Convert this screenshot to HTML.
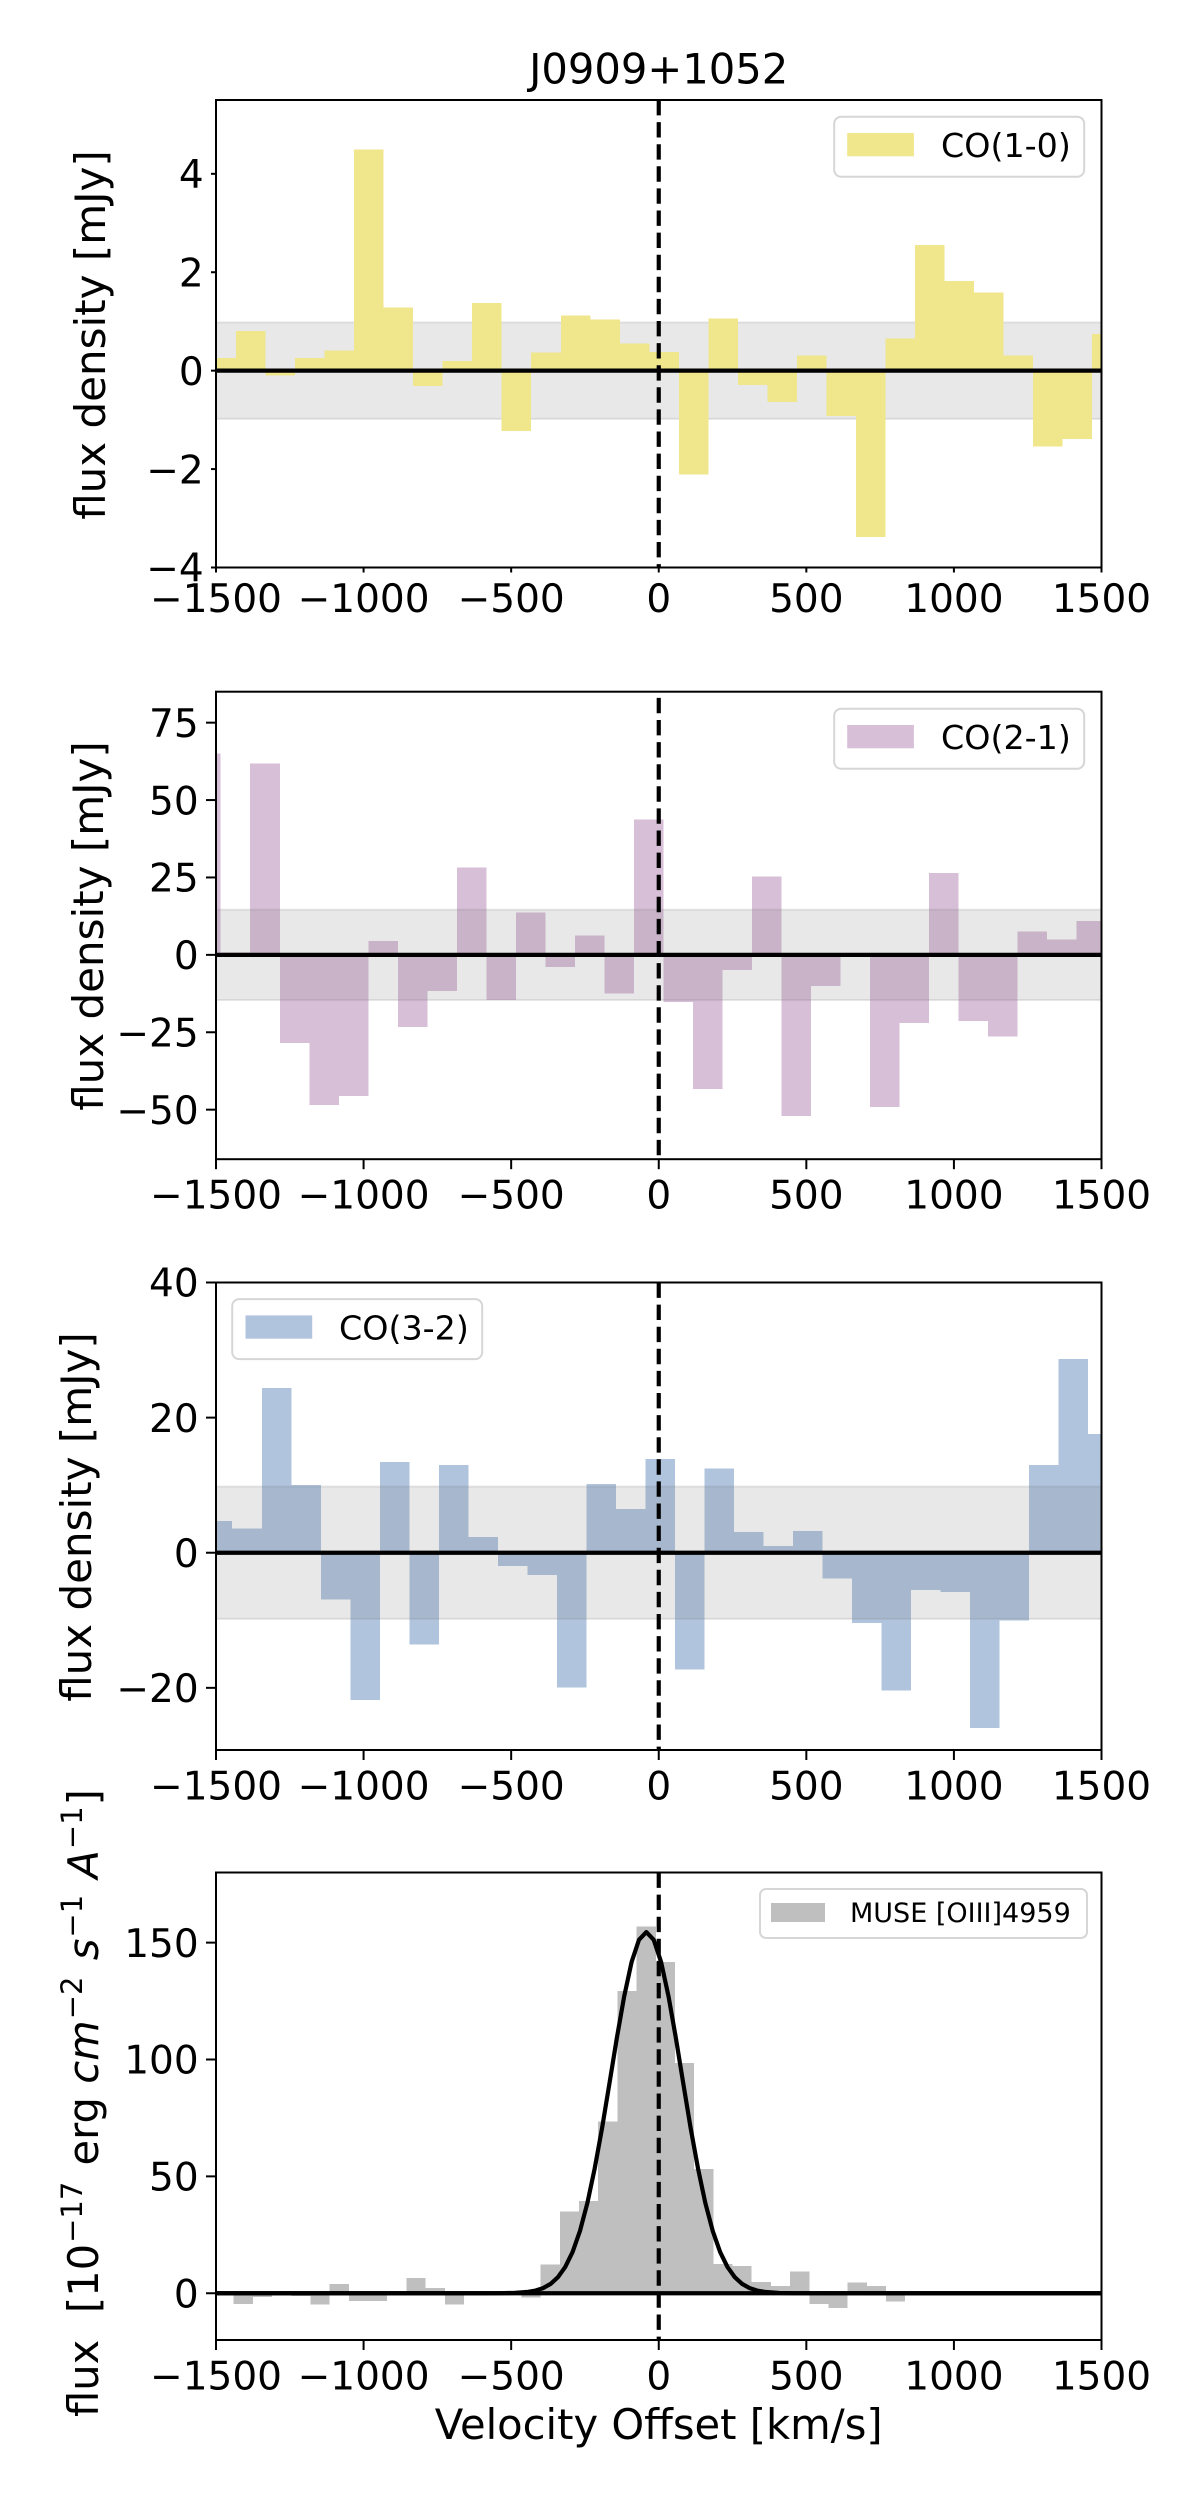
<!DOCTYPE html>
<html lang="en">
<head>
<meta charset="utf-8">
<title>J0909+1052 spectra</title>
<style>
html,body{margin:0;padding:0;background:#fff;}
svg{display:block;font-family:"DejaVu Sans","Liberation Sans",sans-serif;fill:#000;}
</style>
</head>
<body>
<svg id="figure" xmlns="http://www.w3.org/2000/svg" width="1200" height="2500" viewBox="0 0 1200 2500">
  <rect x="0" y="0" width="1200" height="2500" fill="#ffffff"/>
  <g id="plots"></g>

  <text x="658.7" y="83.5" font-size="41.67" text-anchor="middle">J0909+1052</text>

  <text transform="translate(105,335) rotate(-90)" font-size="42" text-anchor="middle">flux density [mJy]</text>
  <text transform="translate(103,926) rotate(-90)" font-size="42" text-anchor="middle">flux density [mJy]</text>
  <text transform="translate(91,1517) rotate(-90)" font-size="42" text-anchor="middle">flux density [mJy]</text>
  <text transform="translate(98,2103) rotate(-90)" font-size="41.67" text-anchor="middle" xml:space="preserve">flux  [10<tspan font-size="29" dy="-16" dx="1">−17</tspan><tspan dy="16" dx="3"> erg </tspan><tspan font-style="italic">cm</tspan><tspan font-size="29" dy="-16" dx="1">−2</tspan><tspan dy="16" dx="3"> </tspan><tspan font-style="italic">s</tspan><tspan font-size="29" dy="-16" dx="1">−1</tspan><tspan dy="16" dx="3"> </tspan><tspan font-style="italic">A</tspan><tspan font-size="29" dy="-16" dx="1">−1</tspan><tspan dy="16" dx="1">]</tspan></text>

  <text x="658.7" y="2439" font-size="41.67" text-anchor="middle">Velocity Offset [km/s]</text>

  <g>
    <rect x="834.2" y="116.7" width="250" height="60" rx="7" fill="#ffffff" fill-opacity="0.8" stroke="#d6d6d6" stroke-width="2"/>
    <rect x="847.2" y="133" width="66.7" height="23.3" fill="#f0e68c"/>
    <text x="941" y="157" font-size="33.3">CO(1-0)</text>
  </g>
  <g>
    <rect x="834.2" y="708.7" width="250" height="60" rx="7" fill="#ffffff" fill-opacity="0.8" stroke="#d6d6d6" stroke-width="2"/>
    <rect x="847.2" y="725" width="66.7" height="23.3" fill="#d8bfd8"/>
    <text x="941" y="749" font-size="33.3">CO(2-1)</text>
  </g>
  <g>
    <rect x="232.2" y="1299.1" width="250" height="60" rx="7" fill="#ffffff" fill-opacity="0.8" stroke="#d6d6d6" stroke-width="2"/>
    <rect x="245.5" y="1315.4" width="66.7" height="23.3" fill="#b0c4de"/>
    <text x="339" y="1339.4" font-size="33.3">CO(3-2)</text>
  </g>
  <g>
    <rect x="760" y="1889" width="327" height="49" rx="6" fill="#ffffff" fill-opacity="0.8" stroke="#d6d6d6" stroke-width="2"/>
    <rect x="771" y="1903" width="54" height="19" fill="#bfbfbf"/>
    <text x="850" y="1922" font-size="27">MUSE [OIII]4959</text>
  </g>
</svg>

<script>
// ---- chart data ----
const velocityTicks = [-1500, -1000, -500, 0, 500, 1000, 1500];

const co10Ticks = [-4, -2, 0, 2, 4];
const co21Ticks = [-50, -25, 0, 25, 50, 75];
const co32Ticks = [-20, 0, 20, 40];
const museTicks = [0, 50, 100, 150];

const co10FirstEdge = -1532;
const co21FirstEdge = -1584;
const co32FirstEdge = -1545;
const museFirstEdge = -1505;

const co10BinWidth = 100;
const co21BinWidth = 100;
const co32BinWidth = 100;
const museBinWidth = 65;

const co10Values = [0.26, 0.81, -0.10, 0.26, 0.41, 4.49, 1.28, -0.31, 0.2, 1.37, -1.23, 0.37, 1.12, 1.04, 0.55, 0.38, -2.11, 1.06, -0.29, -0.64, 0.31, -0.92, -3.38, 0.65, 2.55, 1.82, 1.59, 0.31, -1.54, -1.39, 0.75];
const co21Values = [65, 0.7, 61.8, -28.5, -48.5, -45.6, 4.45, -23.3, -11.7, 28.2, -14.6, 13.7, -4, 6.3, -12.4, 43.7, -15.2, -43.4, -4.9, 25.3, -52, -10.1, -0.4, -49.1, -22, 26.4, -21.4, -26.3, 7.6, 5, 10.9];
const co32Values = [4.7, 3.6, 24.4, 10, -6.95, -21.8, 13.4, -13.6, 12.95, 2.3, -1.95, -3.3, -19.95, 10.2, 6.5, 13.85, -17.3, 12.5, 3.05, 1, 3.2, -3.85, -10.4, -20.4, -5.5, -5.8, -25.95, -10.05, 12.95, 28.7, 17.6];
const museValues = [-0.3, -4.5, -1.7, -0.3, -1.2, -4.9, 4, -3.3, -3.3, -0.3, 6.6, 2.3, -4.9, 0.8, 0.8, 0.6, -1.8, 12.2, 35, 39.5, 73.5, 129.3, 157, 141.8, 98.4, 53.2, 12.6, 11.7, 4.9, 3.2, 9.3, -4.5, -6.3, 4.5, 3.2, -3.6, -0.3, -0.3, -0.3, -0.3, -0.3, -0.3, -0.3, -0.3, -0.3, -0.3, -0.3];

const fitVelocities = [-1500, -1000, -600, -542, -492, -442, -417, -392, -367, -342, -317, -292, -267, -242, -217, -192, -167, -142, -117, -92, -67, -42, -17, 8, 33, 58, 83, 108, 133, 158, 183, 208, 233, 258, 283, 308, 333, 358, 408, 458, 1000, 1500];
const fitValues = [0, 0, 0, 0.03, 0.14, 0.6, 1.17, 2.2, 3.95, 6.8, 11.2, 17.6, 26.6, 38.5, 53.4, 70.7, 89.8, 109.2, 127.1, 141.7, 151.2, 154.5, 151.2, 141.7, 127.1, 109.2, 89.8, 70.7, 53.4, 38.5, 26.6, 17.6, 11.2, 6.8, 3.95, 2.2, 1.17, 0.6, 0.14, 0.03, 0, 0];

const co10Noise = 0.98;
const co21Noise = 14.6;
const co32Noise = 9.8;

// ---- layout ----
const NS = 'http://www.w3.org/2000/svg';
const AXIS_LEFT = 216;
const AXIS_RIGHT = 1101.5;
const AXIS_HEIGHT = 467.5;
const X_MIN = -1500;
const X_MAX = 1500;

const panels = [
  { key: 'co10', top: 100,    yMin: -4,   yMax: 5.5, values: co10Values, firstEdge: co10FirstEdge, binWidth: co10BinWidth, ticks: co10Ticks, color: '#f0e68c', noise: co10Noise, bandBelow: true,  tickLen: 5,  dashTop: 5.5 },
  { key: 'co21', top: 691.7,  yMin: -66,  yMax: 85,  values: co21Values, firstEdge: co21FirstEdge, binWidth: co21BinWidth, ticks: co21Ticks, color: '#d8bfd8', noise: co21Noise, bandBelow: false, tickLen: 10, dashTop: 83 },
  { key: 'co32', top: 1282.5, yMin: -29.2, yMax: 40, values: co32Values, firstEdge: co32FirstEdge, binWidth: co32BinWidth, ticks: co32Ticks, color: '#b0c4de', noise: co32Noise, bandBelow: false, tickLen: 10, dashTop: 40 },
  { key: 'muse', top: 1872.5, yMin: -20,  yMax: 180, values: museValues, firstEdge: museFirstEdge, binWidth: museBinWidth, ticks: museTicks, color: '#bfbfbf', noise: null,      bandBelow: false, tickLen: 10, dashTop: 180 }
];

function make(tag, parent, attrs) {
  const el = document.createElementNS(NS, tag);
  for (const k in attrs) el.setAttribute(k, attrs[k]);
  parent.appendChild(el);
  return el;
}

function fmt(n) {
  return String(n).replace('-', '\u2212');
}

const xScale = function (v) {
  return AXIS_LEFT + (v - X_MIN) / (X_MAX - X_MIN) * (AXIS_RIGHT - AXIS_LEFT);
};

const plots = document.getElementById('plots');

panels.forEach(function (p) {
  const bottom = p.top + AXIS_HEIGHT;
  const yScale = function (v) {
    return bottom - (v - p.yMin) / (p.yMax - p.yMin) * AXIS_HEIGHT;
  };

  const group = make('g', plots, {});
  
  

  const clip = make('clipPath', group, { id: 'clip-' + p.key });
  make('rect', clip, { x: AXIS_LEFT, y: p.top, width: AXIS_RIGHT - AXIS_LEFT, height: AXIS_HEIGHT });

  const inner = make('g', group, { 'clip-path': 'url(#clip-' + p.key + ')' });
  
  

  function drawBand() {
    if (p.noise === null) return;
    const band = make('rect', inner, {
      x: AXIS_LEFT - 4,
      y: yScale(p.noise),
      width: AXIS_RIGHT - AXIS_LEFT + 8,
      height: yScale(-p.noise) - yScale(p.noise),
      fill: '#808080',
      'fill-opacity': 0.18,
      stroke: '#808080',
      'stroke-opacity': 0.18,
      'stroke-width': 2
    });
    
    
  }

  if (p.bandBelow) drawBand();

  p.values.forEach(function (val, i) {
    const x0 = xScale(p.firstEdge + i * p.binWidth);
    const x1 = xScale(p.firstEdge + (i + 1) * p.binWidth);
    const y0 = yScale(Math.max(val, 0));
    const y1 = yScale(Math.min(val, 0));
    const bar = make('rect', inner, { x: x0, y: y0, width: x1 - x0, height: y1 - y0, fill: p.color, 'shape-rendering': 'crispEdges' });
    
    
  });

  if (!p.bandBelow) drawBand();

  const zero = make('line', inner, { x1: AXIS_LEFT, x2: AXIS_RIGHT, y1: yScale(0), y2: yScale(0), stroke: '#000', 'stroke-width': 4.2 });
  
  

  if (p.key === 'muse') {
    const pts = fitVelocities.map(function (v, i) {
      return xScale(v).toFixed(2) + ',' + yScale(fitValues[i]).toFixed(2);
    }).join(' ');
    const fit = make('polyline', inner, { points: pts, fill: 'none', stroke: '#000', 'stroke-width': 4.2, 'stroke-linejoin': 'round' });
    
    
  }

  const dash = make('line', inner, { x1: xScale(0), x2: xScale(0), y1: yScale(p.dashTop), y2: bottom, stroke: '#000', 'stroke-width': 4.17, 'stroke-dasharray': '15.4 6.7' });
  
  

  const frame = make('rect', group, { x: AXIS_LEFT, y: p.top, width: AXIS_RIGHT - AXIS_LEFT, height: AXIS_HEIGHT, fill: 'none', stroke: '#000', 'stroke-width': 2 });
  
  

  velocityTicks.forEach(function (t) {
    const tick = make('line', group, { x1: xScale(t), x2: xScale(t), y1: bottom, y2: bottom + p.tickLen, stroke: '#000', 'stroke-width': 2 });
    
    
    const label = make('text', group, { x: xScale(t), y: bottom + 39.5 + p.tickLen, 'font-size': 39, 'text-anchor': 'middle' });
    label.textContent = fmt(t);
    
    
  });

  p.ticks.forEach(function (t) {
    const tick = make('line', group, { x1: AXIS_LEFT - p.tickLen, x2: AXIS_LEFT, y1: yScale(t), y2: yScale(t), stroke: '#000', 'stroke-width': 2 });
    
    
    const label = make('text', group, { x: AXIS_LEFT - p.tickLen - 7.3, y: yScale(t) + 14.2, 'font-size': 39, 'text-anchor': 'end' });
    label.textContent = fmt(t);
    
    
  });
});
</script>
</body>
</html>
